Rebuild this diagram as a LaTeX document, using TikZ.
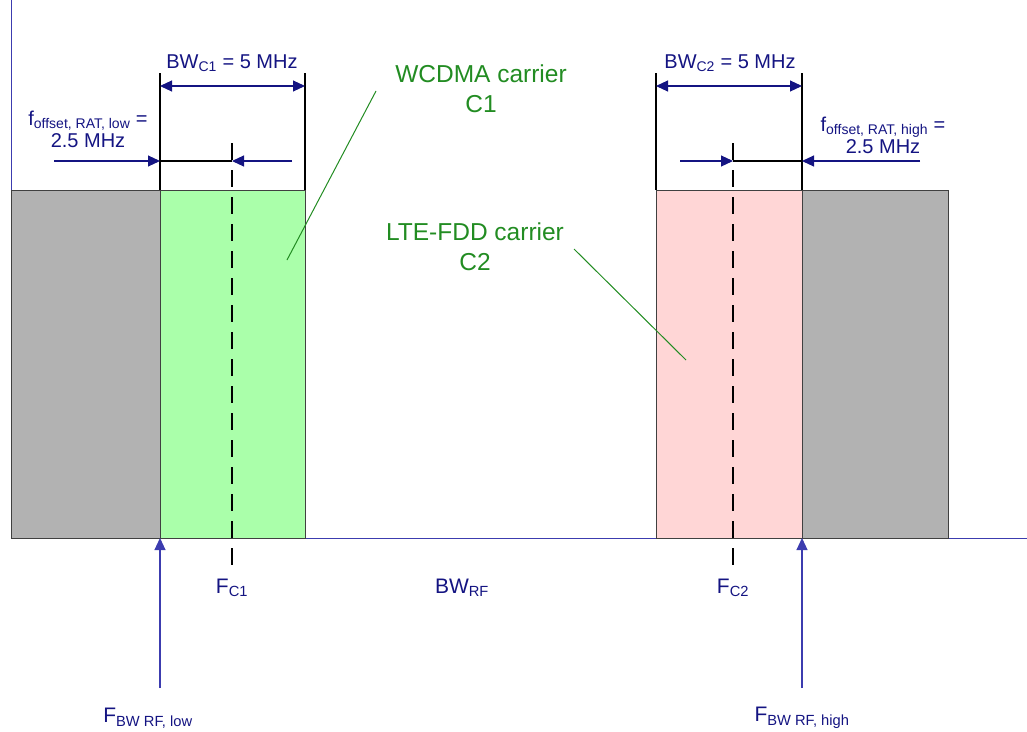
\documentclass[tikz,border=0pt]{standalone}
\usepackage{fontspec}
\setmainfont{Liberation Sans}
\usetikzlibrary{arrows.meta,calc,positioning}
\definecolor{SpecBlue}{RGB}{20,20,130}
\definecolor{AxisBlue}{RGB}{60,60,175}
\definecolor{CarrierGreen}{RGB}{34,140,34}
\definecolor{WcdmaFill}{RGB}{170,255,170}
\definecolor{LteFill}{RGB}{255,214,214}
\definecolor{GuardGrey}{RGB}{178,178,178}
\tikzset{
  bluelabel/.style={text=SpecBlue, font=\fontsize{20}{22}\selectfont, align=center, inner sep=0pt},
  greenlabel/.style={text=CarrierGreen, font=\fontsize{24.5}{30}\selectfont, align=center, inner sep=0pt},
  bluearrow/.style={-{Triangle[length=12pt,width=11pt]}, SpecBlue, line width=1.1pt},
  block/.style={draw=black!75, line width=1pt},
}
\begin{document}
\begin{tikzpicture}[x=1pt, y=-1pt]
    \useasboundingbox (0,0) rectangle (1027,731);
    % Draw axes
    \coordinate (origin) at (11,538);
    \coordinate (ytop) at (11,0);
    \coordinate (xend) at (1027,538);
    \draw[AxisBlue, line width=1pt] (ytop) -- (origin) -- (xend);
    % Draw carrier blocks
    \draw[block, fill=GuardGrey] (11,190) rectangle (160,538);
    \draw[block, fill=WcdmaFill] (160,190) rectangle (305,538);
    \draw[block, fill=LteFill] (656,190) rectangle (802,538);
    \draw[block, fill=GuardGrey] (802,190) rectangle (948,538);
    % Draw carrier edges
    \coordinate (e1) at (160,73);
    \coordinate (e2) at (305,73);
    \coordinate (e3) at (656,73);
    \coordinate (e4) at (802,73);
    \foreach \e in {e1,e2,e3,e4}
        \draw[black, line width=1.2pt] (\e) -- ($(\e)+(0,117)$);
    % Draw centre frequencies
    \coordinate (c1top) at (232,143);
    \coordinate (c1bot) at (232,570);
    \coordinate (c2top) at (733,143);
    \coordinate (c2bot) at (733,570);
    \draw[black, line width=2.4pt, dash pattern=on 17pt off 10pt] (c1top) -- (c1bot);
    \draw[black, line width=2.4pt, dash pattern=on 17pt off 10pt] (c2top) -- (c2bot);
    % Draw carrier bandwidth arrows
    \draw[bluearrow, {Triangle[length=12pt,width=11pt]}-{Triangle[length=12pt,width=11pt]}] ($(e1)+(0,13)$) -- ($(e2)+(0,13)$);
    \draw[bluearrow, {Triangle[length=12pt,width=11pt]}-{Triangle[length=12pt,width=11pt]}] ($(e3)+(0,13)$) -- ($(e4)+(0,13)$);
    \node[bluelabel] (bwc1) at (232,63) {BW\textsubscript{C1} = 5 MHz};
    \node[bluelabel] (bwc2) at (730,63) {BW\textsubscript{C2} = 5 MHz};
    % Draw offset arrows
    \coordinate (lowa) at (54,161);
    \coordinate (lowb) at (160,161);
    \coordinate (lowc) at (232,161);
    \coordinate (lowd) at (292,161);
    \draw[black, line width=1.2pt] (lowb) -- (lowc);
    \draw[bluearrow] (lowa) -- (lowb);
    \draw[bluearrow] (lowd) -- (lowc);
    \coordinate (higha) at (680,161);
    \coordinate (highb) at (733,161);
    \coordinate (highc) at (802,161);
    \coordinate (highd) at (920,161);
    \draw[black, line width=1.2pt] (highb) -- (highc);
    \draw[bluearrow] (higha) -- (highb);
    \draw[bluearrow] (highd) -- (highc);
    \node[bluelabel] (offlow) at (88,129) {f\textsubscript{offset, RAT, low} =\\2.5 MHz};
    \node[bluelabel] (offhigh) at (883,135) {f\textsubscript{offset, RAT, high} =\\2.5 MHz};
    % Draw carrier names
    \node[greenlabel] (wcdma) at (481,89) {WCDMA carrier\\C1};
    \node[greenlabel] (lte) at (475,247) {LTE-FDD carrier\\C2};
    \coordinate (wcdmatip) at (287,260);
    \coordinate (ltetip) at (686,360);
    \draw[CarrierGreen, line width=1pt] (376,91) -- (wcdmatip);
    \draw[CarrierGreen, line width=1pt] (574,249) -- (ltetip);
    % Draw frequency labels
    \node[bluelabel, font=\fontsize{21}{24}\selectfont] (fc1) at (232,588) {F\textsubscript{C1}};
    \node[bluelabel, font=\fontsize{21}{24}\selectfont] (bwrf) at (462,588) {BW\textsubscript{RF}};
    \node[bluelabel, font=\fontsize{21}{24}\selectfont] (fc2) at (733,588) {F\textsubscript{C2}};
    \node[bluelabel, font=\fontsize{21}{24}\selectfont] (fbwlow) at (148,718) {F\textsubscript{BW RF, low}};
    \node[bluelabel, font=\fontsize{21}{24}\selectfont] (fbwhigh) at (802,718) {F\textsubscript{BW RF, high}};
    \coordinate (lowfoot) at (160,688);
    \coordinate (highfoot) at (802,688);
    \draw[bluearrow, AxisBlue] (lowfoot) -- (lowb |- origin);
    \draw[bluearrow, AxisBlue] (highfoot) -- (highc |- origin);
\end{tikzpicture}
\end{document}
